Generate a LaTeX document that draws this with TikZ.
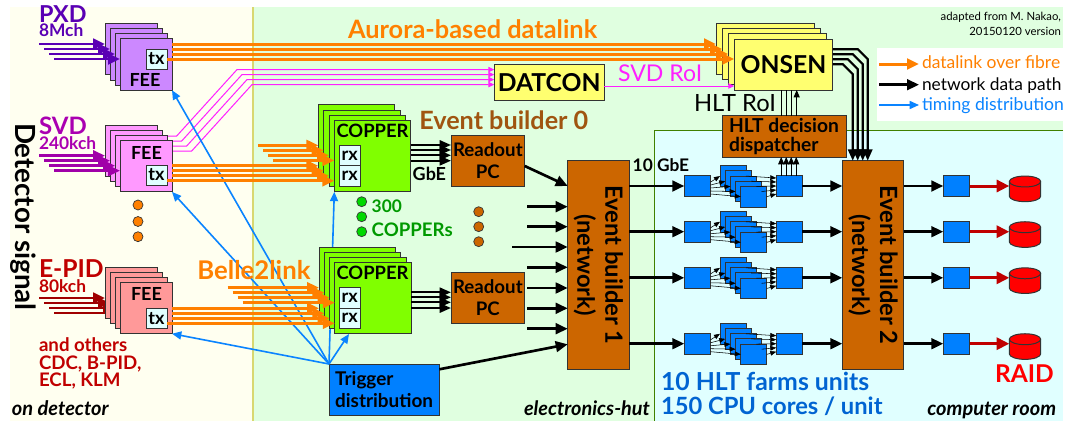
\documentclass[tikz,border=0pt]{standalone}
\usepackage{fontspec}
\setmainfont{Lato}
\usetikzlibrary{arrows.meta}
\definecolor{bgY}{HTML}{FFFFF0}
\definecolor{bgG}{HTML}{E0FFE0}
\definecolor{bgC}{HTML}{E0FFFF}
\definecolor{sepY}{HTML}{D8D870}
\definecolor{sepG}{HTML}{408000}
\definecolor{cOr}{HTML}{FF8000}
\definecolor{cBl}{HTML}{0A84FF}
\definecolor{cBox}{HTML}{0080FF}
\definecolor{cBr}{HTML}{CC6600}
\definecolor{cPu}{HTML}{5A00B4}
\definecolor{cSv}{HTML}{A000A8}
\definecolor{cEp}{HTML}{A00000}
\definecolor{cMa}{HTML}{FF20FF}
\definecolor{cRe}{HTML}{C00000}
\definecolor{cCop}{HTML}{80FF00}
\definecolor{cYe}{HTML}{FFFF70}
\definecolor{cFa}{HTML}{CC88FF}
\definecolor{cFb}{HTML}{FF99FF}
\definecolor{cFc}{HTML}{FF9999}
\definecolor{cEv}{HTML}{A05510}
\definecolor{cTb}{HTML}{0064D2}
\tikzset{
  x=0.75pt,y=-0.75pt,
  bxs/.style={draw=black!80,line width=0.75pt,inner sep=0pt,outer sep=0pt,anchor=north west,font=\bfseries},
  ghost/.style={draw=none,fill=none},
  tbox/.style={bxs,fill=bgC,font=\bfseries\fontsize{13.5}{13.5}\selectfont},
  orl/.style={draw=cOr,line width=2.25pt,-{Triangle[length=9pt,width=8pt,fill=cOr]}},
  bkl/.style={draw=black,line width=2pt,-{Triangle[length=9pt,width=8pt]}},
  bkm/.style={draw=black,line width=1.6pt,-{Triangle[length=8.5pt,width=7pt]}},
  thn/.style={draw=black,line width=0.6pt,-{Triangle[length=5.5pt,width=4.5pt]}},
  thm/.style={draw=black,line width=0.4pt,-{Triangle[length=4.5pt,width=3.5pt]}},
  mal/.style={draw=cMa,line width=0.75pt,-{Triangle[length=4.5pt,width=4pt]}},
  bll/.style={draw=cBl,line width=1.2pt,-{Triangle[length=7pt,width=6pt]}},
  rdl/.style={draw=cRe,line width=2.25pt,-{Triangle[length=9.5pt,width=9pt]}},
  txt/.style={inner sep=0pt,outer sep=0pt,anchor=base west,font=\bfseries},
  dotb/.style={circle,draw=black!80,line width=0.5pt,minimum size=7.5pt,inner sep=0pt}
}
\newcommand{\fs}[1]{\fontsize{#1}{#1}\selectfont}
\newcommand{\bx}[7]{\node[bxs,#6,minimum width=#4*0.75pt,minimum height=#5*0.75pt] (#1) at (#2,#3) {#7};}
\newcommand{\lab}[5]{\node[txt,#4] (#1) at (#2,#3) {#5};}
\begin{document}
\begin{tikzpicture}
\useasboundingbox (0,0) rectangle (1074,421);
% backgrounds
\fill[white] (0,0) rectangle (1074,421);
\fill[bgY] (10,7) rectangle (253,421);
\fill[bgG] (253,7) rectangle (1063,421);
\draw[sepY,line width=1.5pt] (253,7) -- (253,421);
\fill[bgC] (654.3,130.3) rectangle (1063,421);
\draw[sepG,line width=0.75pt] (1063,130.3) -- (654.3,130.3) -- (654.3,421);
\fill[white] (876.7,48) rectangle (1063,121);

% named free ends
\foreach \i in {0,1,2,3}{
  \coordinate (pi\i) at (39+5*\i,44+5*\i);
  \coordinate (si\i) at (39+5*\i,155.7+5*\i);
  \coordinate (ei\i) at (39+5*\i,298+5*\i);
  \coordinate (bu\i) at (258+5*\i,145.4+5*\i);
  \coordinate (bl\i) at (227.7+5*\i,287.7+5*\i);
}
% invisible outlines, for connectors that pass behind the boxes
\foreach \i in {0,1,2,3}{
  \bx{epid\i}{105+5*\i}{267.3+5*\i}{52}{51.4}{ghost}{}
  \bx{svd\i}{105+5*\i}{125.5+5*\i}{52}{51.4}{ghost}{}
}
% magenta lines (behind the SVD boxes)
\coordinate (dat0) at (494.3,69.6);
\coordinate (dat1) at (494.3,74.6);
\coordinate (dat2) at (494.3,79.6);
\coordinate (dat3) at (494.3,84.6);
\draw[mal] (svd0.east |- 0,136) -- (176.7,136) -- (237,69.6) -- (dat0);
\draw[mal] (svd1.east |- 0,141) -- (181.7,141) -- (242,74.6) -- (dat1);
\draw[mal] (svd2.east |- 0,146) -- (186.7,146) -- (247,79.6) -- (dat2);
\draw[mal] (svd3.east |- 0,151) -- (191.7,151) -- (252,84.6) -- (dat3);
% E-PID inputs are hidden by the boxes
\foreach \i in {0,1,2,3}{
  \draw[draw=cEp,line width=2pt,-{Triangle[length=9pt,width=8pt,fill=cEp]}] (ei\i) -- (epid\i.west |- ei\i);
}
% FEE stacks
\foreach \i in {0,1,2,3}{
  \bx{pxd\i}{105+5*\i}{23.5+5.1*\i}{52}{51.4}{fill=cFa}{}
  \bx{svdb\i}{105+5*\i}{125.5+5*\i}{52}{51.4}{fill=cFb}{}
  \bx{epidb\i}{105+5*\i}{267.3+5*\i}{52}{51.4}{fill=cFc}{}
}
\bx{pxdtx}{146}{49}{21}{20}{tbox}{tx}
\bx{svdtx}{146}{165}{21}{20}{tbox}{tx}
\bx{epidtx}{146}{308.7}{21}{20}{tbox}{tx}
\lab{pxdfee}{129.5}{86}{font=\bfseries\fs{13.5}}{FEE}
\lab{svdfee}{131}{159}{font=\bfseries\fs{13.5}}{FEE}
\lab{epidfee}{131}{300.7}{font=\bfseries\fs{13.5}}{FEE}
% purple + SVD inputs
\foreach \i in {0,1,2,3}{
  \draw[draw=cPu,line width=2pt,-{Triangle[length=9pt,width=8pt,fill=cPu]}] (pi\i) -- (pxd\i.west |- pi\i);
  \draw[draw=cSv,line width=2pt,-{Triangle[length=9pt,width=8pt,fill=cSv]}] (si\i) -- (svdb\i.west |- si\i);
}
% upper COPPER stack
\foreach \i in {0,1,2,3}{
  \bx{cub\i}{318.4+5.3*\i}{104.8+5.2*\i}{76.5}{71.4}{fill=cCop}{}
}
% trigger + timing lines
\bx{trig}{329}{364}{110.3}{51}{fill=cBox,align=left,font=\bfseries\fontsize{14.2}{17}\selectfont}{Trigger\\distribution}
\draw[bll] (trig.north west) -- (pxd3.south east);
\draw[bll] (trig.north west) -- (svdb3.south east);
\draw[bll] (trig.north west) -- (epidb3.south east);
\draw[bll] (trig.north west) -- (cub3.south west);
% lower COPPER stack
\foreach \i in {0,1,2,3}{
  \bx{clb\i}{319+5.3*\i}{247+5.1*\i}{76.5}{71.4}{fill=cCop}{}
}
\coordinate (clbt) at (349,334);
\draw[bll] (trig.north west) -- (clbt);
\bx{rxa}{339.3}{145.3}{20.7}{20.4}{tbox}{rx}
\bx{rxb}{339.3}{165.7}{20.7}{20.4}{tbox}{rx}
\bx{rxc}{339.3}{287.7}{20.7}{20.4}{tbox}{rx}
\bx{rxd}{339.3}{308}{20.7}{20.4}{tbox}{rx}
\lab{copa}{372.5}{137.3}{anchor=base,font=\bfseries\fs{13.8}}{COPPER}
\lab{copb}{372.5}{279.3}{anchor=base,font=\bfseries\fs{13.8}}{COPPER}
% ONSEN, DATCON
\foreach \i in {0,1,2,3}{
  \bx{onb\i}{716+6.1*\i}{23.7+5.1*\i}{98.5}{51}{fill=cYe,font=\bfseries\fs{18.5}}{\ifnum\i=3 ONSEN\fi}
}
\bx{dat}{494.3}{64.3}{109.7}{35.7}{fill=cYe,font=\bfseries\fs{18.5}}{DATCON}
\coordinate (srr) at (734,86);
\draw[mal] (dat.east |- srr) -- (onb3.west |- srr);
% orange links
\foreach \i/\y in {0/44,1/49,2/54}{
  \draw[orl] (pxd3.east |- 0,\y) -- (onb\i.west |- 0,\y);
}
\draw[orl] (pxdtx.east |- 0,59) -- (onb3.west |- 0,59);
\foreach \i/\y in {0/165.8,1/170.8,2/175.8}{
  \draw[orl] (svdb3.east |- 0,\y) -- (cub\i.west |- 0,\y);
}
\draw[orl] (svdtx.east |- 0,180.8) -- (cub3.west |- 0,180.8);
\foreach \i/\y in {0/308.3,1/313.3,2/318.3}{
  \draw[orl] (epidb3.east |- 0,\y) -- (clb\i.west |- 0,\y);
}
\draw[orl] (epidtx.east |- 0,323.3) -- (clb3.west |- 0,323.3);
\foreach \i in {0,1,2,3}{
  \draw[orl] (bu\i) -- (cub\i.west |- bu\i);
  \draw[orl] (bl\i) -- (clb\i.west |- bl\i);
}
% dots
\node[dotb,fill=cOr] (doa) at (138,205) {};
\node[dotb,fill=cOr] (dob) at (138,221.5) {};
\node[dotb,fill=cOr] (doc) at (138,236.7) {};
\node[dotb,fill=green!85!black] (dga) at (361.7,201.7) {};
\node[dotb,fill=green!85!black] (dgb) at (361.7,216.7) {};
\node[dotb,fill=green!85!black] (dgc) at (361.7,231.7) {};
\node[dotb,fill=cBr] (dba) at (478.7,211.7) {};
\node[dotb,fill=cBr] (dbb) at (478.7,226.7) {};
\node[dotb,fill=cBr] (dbc) at (478.7,241.7) {};
% readout PCs
\bx{pca}{451}{135.3}{73.7}{51.4}{fill=cBr,align=center,font=\bfseries\fontsize{14}{16.7}\selectfont}{Readout\\PC}
\bx{pcb}{451}{272.3}{73.7}{51}{fill=cBr,align=center,font=\bfseries\fontsize{14}{16.7}\selectfont}{Readout\\PC}
\foreach \y in {145,150,155.3,160.7}{
  \draw[bkm] (cub3.east |- 0,\y) -- (pca.west |- 0,\y);
}
\foreach \y in {292.3,297.3,302.3,308}{
  \draw[bkm] (clb3.east |- 0,\y) -- (pcb.west |- 0,\y);
}
% event builders
\bx{ebo}{567.7}{160.7}{61.3}{208.6}{fill=cBr}{}
\bx{ebt}{842.3}{160.7}{61.4}{208.6}{fill=cBr}{}
\node[rotate=-90,align=center,inner sep=0pt,font=\bfseries\fontsize{17.8}{21}\selectfont] (ebotxt) at (ebo.center) {Event builder 1\\(network)};
\node[rotate=-90,align=center,inner sep=0pt,font=\bfseries\fontsize{17.8}{21}\selectfont] (ebttxt) at (ebt.center) {Event builder 2\\(network)};
\coordinate (pe) at (524.7,166);
\coordinate (pee) at (567.7,186);
\draw[bkl] (pe) -- (pee);
\foreach \x/\y in {527.3/206.7,527.3/226.7,512/247,527.3/267.3,527.3/288,527.3/308.3,527.3/328.7}{
  \coordinate (ein) at (\x,\y);
  \draw[bkl] (ein) -- (ebo.west |- ein);
}
\draw[bkl] (trig.east |- 0,369.3) -- (ebo.west |- 0,344.3);
% HLT farm rows
\newcommand{\farm}[2]{%
  \bx{fl#1}{684.3}{#2-10.3}{26.4}{20.6}{fill=cBox}{}
  \bx{fr#1}{776.3}{#2-10.3}{25.7}{20.6}{fill=cBox}{}
  \bx{so#1}{943.3}{#2-10.3}{26.4}{20.6}{fill=cBox}{}
  \foreach \k in {0,1,2,3,4}{
    \bx{fs#1\k}{720+5.2*\k}{#2-20.3+5.15*\k}{26}{20.7}{fill=cBox}{}
  }
  \foreach \k in {0,1,2,3,4}{
    \draw[thm] (fl#1.east |- 0,#2-4+3*\k) -- (fs#1\k.west);
    \draw[thm] (fs#1\k.east) -- (fr#1.west |- 0,#2-8+4*\k);
  }
  \draw[bkl] (ebo.east |- fl#1.west) -- (fl#1.west);
  \draw[bkl] (fr#1.east) -- (ebt.west |- fr#1.east);
  \draw[bkl] (ebt.east |- so#1.west) -- (so#1.west);
  \node[ghost,inner sep=0pt,outer sep=0pt,minimum width=31.4*0.75pt,minimum height=25.7*0.75pt] (db#1) at (1025,#2+2.85) {};
  \draw[rdl] (so#1.east) -- (db#1.west |- so#1.east);
  \draw[draw=black!80,fill=red,line width=0.75pt] (1009.3,#2-4.5) -- (1009.3,#2+10.2)
    arc[x radius=11.775pt,y radius=4.1pt,start angle=180,end angle=360]
    -- (1040.7,#2-4.5)
    arc[x radius=11.775pt,y radius=4.1pt,start angle=0,end angle=180] -- cycle;
  \draw[draw=black!80,line width=0.75pt] (1009.3,#2-4.5)
    arc[x radius=11.775pt,y radius=4.1pt,start angle=180,end angle=360];
}
\farm{a}{186}
\farm{b}{231.7}
\farm{c}{277.8}
\farm{d}{343.7}
% dispatcher
\bx{disp}{722}{115.7}{124}{41.3}{fill=cBr,align=left,font=\bfseries\fontsize{14.4}{14.4}\selectfont}{HLT decision\\dispatcher}
\foreach \x in {781.7,786.7,791.7}{
  \draw[draw=black,line width=0.45pt] (\x,0 |- disp.north) -- (\x,0 |- onb3.south);
}
\draw[thn] (796.7,0 |- disp.north) -- (796.7,0 |- onb3.south);
\foreach \x in {781.2,786.2,791.2,796.2}{
  \draw[thn] (\x,0 |- fra.north) -- (\x,0 |- disp.south);
}
% ONSEN -> EB2
\draw[bkm] (onb3.east |- 0,49.3) -- (858,49.3) -- (867.7,59) -- (867.7,0 |- ebt.north);
\draw[bkm] (onb3.east |- 0,54.3) -- (853,54.3) -- (862.7,64) -- (862.7,0 |- ebt.north);
\draw[bkm] (onb3.east |- 0,59.3) -- (848,59.3) -- (857.7,69) -- (857.7,0 |- ebt.north);
\draw[bkm] (onb3.east |- 0,64.3) -- (843,64.3) -- (852.7,74) -- (852.7,0 |- ebt.north);
% legend
\coordinate (la) at (879.3,64); \coordinate (lb) at (879.3,84.7); \coordinate (lc) at (879.3,105);
\coordinate (lae) at (919,64); \coordinate (lbe) at (919,84.7); \coordinate (lce) at (919,105);
\draw[orl] (la) -- (lae);
\draw[bkl] (lb) -- (lbe);
\draw[bll] (lc) -- (lce);
\lab{lt1}{922}{68.3}{font=\fs{13.1},text=cOr}{datalink over fibre}
\lab{lt2}{922}{90}{font=\fs{13}}{network data path}
\lab{lt3}{922}{110}{font=\fs{13.2},text=cBl}{timing distribution}
% text labels
\lab{t1}{39}{22}{font=\bfseries\fs{17.5},text=cPu}{PXD}
\lab{t2}{39}{36.7}{font=\bfseries\fs{13},text=cPu}{8Mch}
\lab{t3}{39}{134}{font=\bfseries\fs{18},text=cSv!90!magenta}{SVD}
\lab{t4}{39}{149}{font=\bfseries\fs{13},text=cSv!90!magenta}{240kch}
\lab{t5}{39}{277.7}{font=\bfseries\fs{18.5},text=cRe}{E-PID}
\lab{t6}{39}{292.3}{font=\bfseries\fs{13},text=cRe}{80kch}
\lab{t7}{39}{351}{font=\bfseries\fs{14},text=cRe}{and others}
\lab{t8}{39}{369}{font=\bfseries\fs{14},text=cRe}{CDC, B-PID,}
\lab{t9}{39}{386.7}{font=\bfseries\fs{14},text=cRe}{ECL, KLM}
\lab{t10}{12}{415.7}{font=\bfseries\itshape\fs{15}}{on detector}
\lab{t11}{524}{415}{font=\bfseries\itshape\fs{14.9}}{electronics-hut}
\lab{t12}{927.3}{415.7}{font=\bfseries\itshape\fs{15}}{computer room}
\node[txt,rotate=-90,font=\bfseries\fs{20.8}] (t13) at (15,123) {Detector signal};
\lab{t14}{348}{38}{font=\bfseries\fs{19},text=cOr}{Aurora-based datalink}
\lab{t15}{197.3}{279.3}{font=\bfseries\fs{19.3},text=cOr}{Belle2link}
\lab{t16}{419.3}{129.3}{font=\bfseries\fs{18.9},text=cEv}{Event builder 0}
\lab{t17}{371.7}{212}{font=\bfseries\fs{13},text=green!60!black}{300}
\lab{t18}{371.7}{236}{font=\bfseries\fs{14},text=green!60!black}{COPPERs}
\lab{t19}{412.7}{180}{font=\bfseries\fs{13.5}}{GbE}
\lab{t20}{618}{81.7}{font=\fs{17.3},text=cMa}{SVD RoI}
\lab{t21}{694}{111}{font=\fs{17.8}}{HLT RoI}
\lab{t22}{632.7}{171.7}{font=\bfseries\fs{13}}{10 GbE}
\lab{t23}{661}{390}{font=\bfseries\fs{18.6},text=cTb}{10 HLT farms units}
\lab{t24}{661}{414}{font=\bfseries\fs{17.8},text=cTb}{150 CPU cores / unit}
\lab{t25}{995}{382.3}{font=\bfseries\fs{18.4},text=red}{RAID}
\lab{t26}{1061}{20}{anchor=base east,font=\fs{8.5}}{adapted from M. Nakao,}
\lab{t27}{1061}{35}{anchor=base east,font=\fs{8.5}}{20150120 version}
\end{tikzpicture}
\end{document}
